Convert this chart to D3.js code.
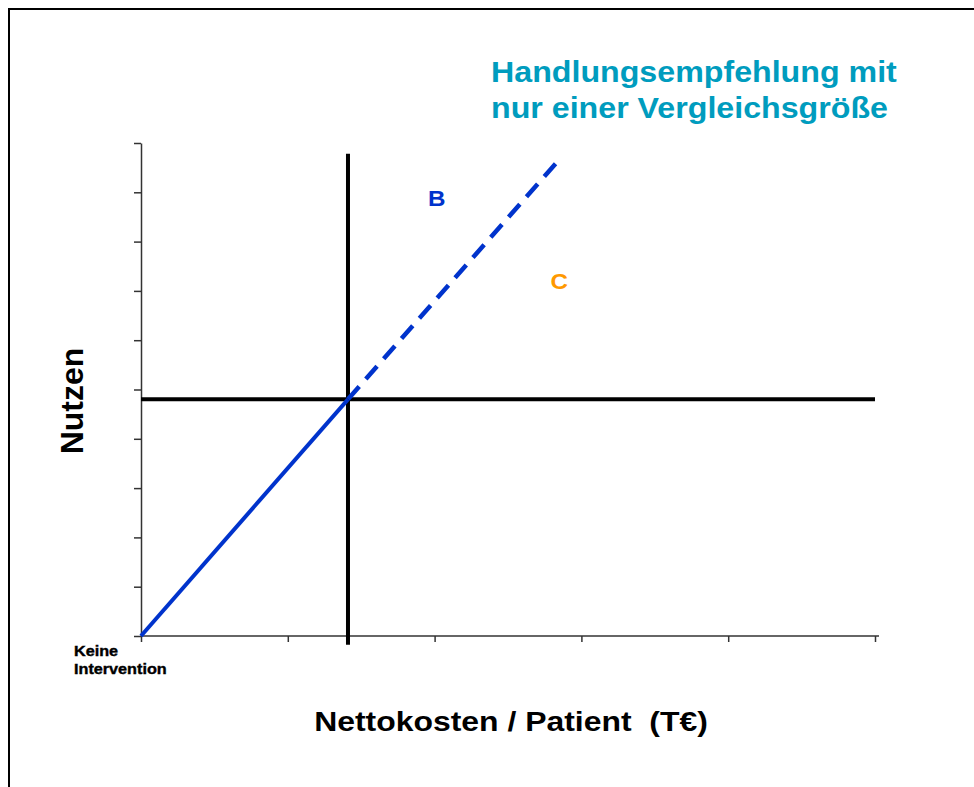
<!DOCTYPE html>
<html>
<head>
<meta charset="utf-8">
<script src="https://cdn.jsdelivr.net/npm/d3@7"></script>
<style>
  body { margin: 0; background: #fff; }
  svg text { font-family: "Liberation Sans", Arial, sans-serif; font-weight: bold; white-space: pre; }
</style>
</head>
<body>
<div id="chart"></div>
<script>
// ticks of both axes (no labels shown)
var xTicks = [0, 1, 2, 3, 4, 5];
var yTicks = [0, 1, 2, 3, 4, 5, 6, 7, 8, 9, 10];

// threshold lines (cost / benefit of the comparator)
var vLine = [[1.41, -0.18], [1.41, 9.78]];
var hLine = [[0, 4.8], [5, 4.8]];

// efficiency frontier: solid up to the comparator, dashed beyond
var frontSolid = [[0, 0], [1.41, 4.8]];
var frontDashed = [[1.41, 4.8], [2.83, 9.6]];

// point labels
var labels = [
  { name: 'B', x: 1.955, y: 8.72, color: '#0033cc' },
  { name: 'C', x: 2.79, y: 7.04, color: '#ff9900' }
];

var titleLines = ['Handlungsempfehlung mit', 'nur einer Vergleichsgröße'];

var width = 974,
    height = 787;

var svg = d3.select('#chart')
            .append('svg')
            .attr('width', width)
            .attr('height', height);

// frame (left + top)
svg.append('path')
   .attr('d', 'M9,787 L9,9 L974,9')
   .attr('fill', 'none')
   .attr('stroke', '#000')
   .attr('stroke-width', 2);

var x = d3.scaleLinear().domain([0, 5]).range([141, 875]);
var y = d3.scaleLinear().domain([0, 10]).range([636, 143]);

var xAxis = svg.append('g')
   .attr('transform', 'translate(0,' + y(0) + ')')
   .call(d3.axisBottom(x).tickValues(xTicks).tickSize(6).tickSizeOuter(0).tickFormat(''));
xAxis.select('.domain').attr('d', 'M' + x(0) + ',0H' + (x(5) + 4));

var yAxis = svg.append('g')
   .attr('transform', 'translate(' + x(0) + ',0)')
   .call(d3.axisLeft(y).tickValues(yTicks).tickSize(7).tickSizeOuter(0).tickFormat(''));

svg.selectAll('.domain, .tick line')
   .attr('stroke', '#333')
   .attr('stroke-width', 1.5);

var line = d3.line()
             .x(function(d) { return x(d[0]); })
             .y(function(d) { return y(d[1]); });

svg.append('path').datum(hLine)
   .attr('d', line).attr('fill', 'none')
   .attr('stroke', '#000').attr('stroke-width', 4);
svg.append('path').datum(vLine)
   .attr('d', line).attr('fill', 'none')
   .attr('stroke', '#000').attr('stroke-width', 4);

svg.append('path').datum(frontSolid)
   .attr('d', line).attr('fill', 'none')
   .attr('stroke', '#0033cc').attr('stroke-width', 4);
svg.append('path').datum(frontDashed)
   .attr('d', line).attr('fill', 'none')
   .attr('stroke', '#0033cc').attr('stroke-width', 4.5)
   .attr('stroke-dasharray', '17,10');

svg.selectAll('.lbl').data(labels).enter()
   .append('text')
   .attr('class', 'lbl')
   .attr('transform', function(d) { return 'translate(' + x(d.x) + ',' + y(d.y) + ') scale(1.1,1)'; })
   .attr('font-size', 22)
   .attr('fill', function(d) { return d.color; })
   .text(function(d) { return d.name; });

// title
svg.append('text')
   .attr('transform', 'translate(491,0) scale(1.11,1)')
   .attr('font-size', 29)
   .attr('fill', '#009cbe')
   .selectAll('tspan').data(titleLines).enter()
   .append('tspan')
   .attr('x', 0)
   .attr('y', function(d, i) { return 82 + i * 36; })
   .text(function(d) { return d; });

// axis titles
svg.append('text')
   .attr('transform', 'translate(511,731) scale(1.14,1)')
   .attr('text-anchor', 'middle')
   .attr('font-size', 28)
   .attr('fill', '#000')
   .text('Nettokosten / Patient  (T€)');

svg.append('text')
   .attr('transform', 'translate(83,401) rotate(-90)')
   .attr('text-anchor', 'middle')
   .attr('font-size', 32)
   .attr('fill', '#000')
   .text('Nutzen');

svg.append('text')
   .attr('transform', 'translate(74,0) scale(1.08,1)')
   .attr('font-size', 15)
   .attr('fill', '#000')
   .attr('stroke', '#000')
   .attr('stroke-width', 0.4)
   .selectAll('tspan').data(['Keine', 'Intervention']).enter()
   .append('tspan')
   .attr('x', 0)
   .attr('y', function(d, i) { return 656 + i * 18; })
   .text(function(d) { return d; });
</script>
</body>
</html>
